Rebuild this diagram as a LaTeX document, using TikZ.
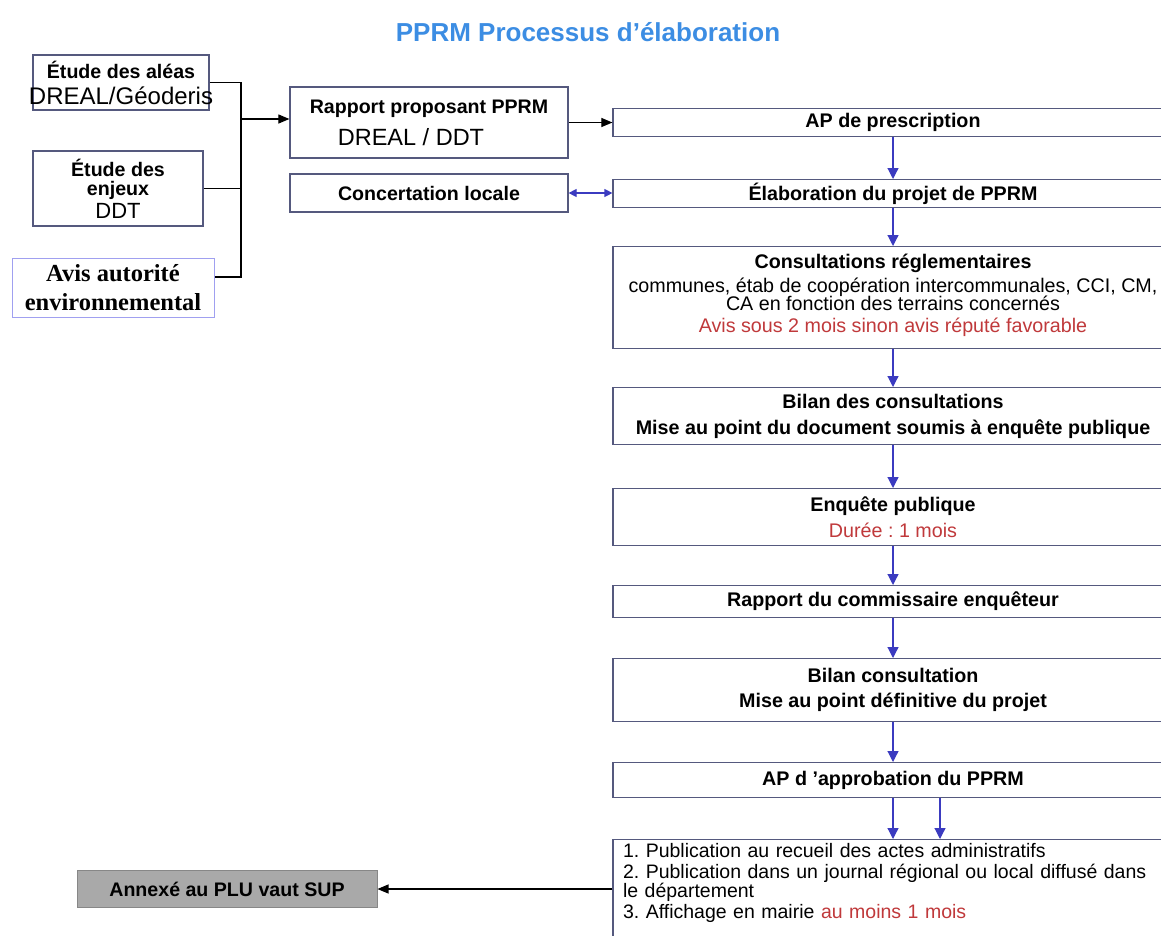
\documentclass[tikz,border=0pt]{standalone}
\usepackage{fontspec}
\setmainfont{Liberation Sans}
\newfontfamily\avisfont{Liberation Serif}
\usetikzlibrary{arrows.meta,positioning}
\definecolor{framecol}{HTML}{55597E}
\definecolor{flowblue}{HTML}{3B3BC0}
\definecolor{notered}{HTML}{C0393B}
\definecolor{titleblue}{HTML}{3C8DE3}
\definecolor{annexgray}{HTML}{A9A9A9}
\definecolor{avisframe}{HTML}{A0A0F0}
\frenchspacing

\begin{document}
\begin{tikzpicture}[
  x=1pt, y=-1pt,
  font=\fontsize{19.7}{20}\selectfont,
  box/.style={draw=framecol, line width=1.2pt, fill=white, align=center, inner sep=2pt},
  colbox/.style={box, anchor=north, minimum width=560pt},
  wire/.style={line width=1.1pt},
  arrow/.style={-{Triangle[length=11pt, width=9pt]}, line width=1.1pt},
  flow/.style={-{Triangle[length=11pt, width=11pt]}, draw=flowblue, fill=flowblue, line width=1.2pt},
  both/.style={{Triangle[length=8pt, width=8pt]}-{Triangle[length=8pt, width=8pt]}, draw=flowblue, fill=flowblue, line width=1.2pt}
]
\useasboundingbox (0,0) rectangle (1161,935);
\clip (0,0) rectangle (1161,935);

\node[font=\fontsize{26}{30}\selectfont\bfseries, text=titleblue] (title) at (588,32) {PPRM Processus d'élaboration};

% sources
\node[box, minimum width=176pt, minimum height=55pt] (aleas) at (121,82.5)
  {{\bfseries\fontsize{19.6}{20}\selectfont Étude des aléas}\\[6pt]
   {\fontsize{24}{22}\selectfont\makebox[0pt]{DREAL/Géoderis}}};
\node[box, minimum width=170pt, minimum height=75pt] (enjeux) at (118,188.5)
  {{\bfseries\fontsize{19.6}{20}\selectfont Étude des}\\[-1pt]
   {\bfseries\fontsize{19.6}{20}\selectfont enjeux}\\[3pt]
   {\fontsize{22}{22}\selectfont DDT}};
\node[box, draw=avisframe, line width=1pt, minimum width=202pt, minimum height=59pt,
  font=\avisfont\bfseries\fontsize{24.5}{29}\selectfont] (avis) at (113,287.5)
  {Avis autorité\\ environnemental};

\node[box, minimum width=278pt, minimum height=71pt] (rapport) at (429,122.5)
  {{\bfseries\fontsize{19.6}{20}\selectfont Rapport proposant PPRM}\\[10pt]
   {\fontsize{23.5}{22}\selectfont DREAL / DDT\hspace*{36pt}}};
\node[box, minimum width=278pt, minimum height=38pt,
  font=\bfseries\fontsize{19.6}{20}\selectfont] (concert) at (429,193) {Concertation locale};

% main column
\node[colbox, minimum height=28pt, font=\bfseries\fontsize{19.7}{20}\selectfont] (presc) at (893,108) {AP de prescription};
\node[colbox, minimum height=28pt, font=\bfseries\fontsize{19.7}{20}\selectfont] (elab) at (893,179) {Élaboration du projet de PPRM};
\node[colbox, minimum height=102pt] (consult) at (893,246)
  {{\bfseries Consultations réglementaires}\\[4pt]
   communes, étab de coopération intercommunales, CCI, CM,\\[-2pt]
   CA en fonction des terrains concernés\\[2pt]
   {\color{notered}Avis sous 2 mois sinon avis réputé favorable}\\[-11pt]~};
\node[colbox, minimum height=57pt, font=\bfseries\fontsize{19.7}{20}\selectfont] (bilan) at (893,387)
  {Bilan des consultations\\[6pt] Mise au point du document soumis à enquête publique};
\node[colbox, minimum height=57pt] (enq) at (893,488)
  {{\bfseries Enquête publique}\\[6pt]
   {\color{notered}Durée : 1 mois}};
\node[colbox, minimum height=32pt, font=\bfseries\fontsize{19.7}{20}\selectfont] (rapp) at (893,585) {Rapport du commissaire enquêteur};
\node[colbox, minimum height=63pt, font=\bfseries\fontsize{19.7}{20}\selectfont] (bilanb) at (893,658)
  {Bilan consultation\\[5pt] Mise au point définitive du projet};
\node[colbox, minimum height=35pt, font=\bfseries\fontsize{19.7}{20}\selectfont] (approb) at (893,762) {AP d 'approbation du PPRM};
\node[colbox, text width=540pt, inner xsep=10pt, inner ysep=4pt, align=left,
  font=\fontsize{19.5}{20}\selectfont] (publi) at (893,839)
  {1. Publication au recueil des actes administratifs\\[1pt]
   2. Publication dans un journal régional ou local diffusé dans\\[-1pt]
   le département\\[1pt]
   3. Affichage en mairie {\color{notered}au moins 1 mois}\\[10pt]~};

\node[box, draw=annexgray!80!black, fill=annexgray, line width=1pt, minimum width=300pt, minimum height=37pt,
  font=\bfseries\fontsize{19.6}{20}\selectfont] (annexe) at (227,889) {Annexé au PLU vaut SUP};

% connectors
\coordinate (bus) at (241,119);
\coordinate (avisout) at ([yshift=10.5pt]avis.east);
\draw[wire] (aleas.east) -| (bus |- avisout) -- (avisout);
\draw[wire] (enjeux.east) -- (enjeux.east -| bus);
\draw[arrow] (bus) -- (bus -| rapport.west);
\draw[arrow] (rapport.east) -- (rapport.east -| presc.west);
\draw[both] (concert.east) -- (concert.east -| elab.west);

\draw[flow] (presc) -- (elab);
\draw[flow] (elab) -- (consult);
\draw[flow] (consult) -- (bilan);
\draw[flow] (bilan) -- (enq);
\draw[flow] (enq) -- (rapp);
\draw[flow] (rapp) -- (bilanb);
\draw[flow] (bilanb) -- (approb);
\draw[flow] (approb.south) -- (approb.south |- publi.north);
\draw[flow] ([xshift=47pt]approb.south) -- ([xshift=47pt]approb.south |- publi.north);

\draw[arrow] (annexe.east -| publi.west) -- (annexe.east);
\end{tikzpicture}
\end{document}
